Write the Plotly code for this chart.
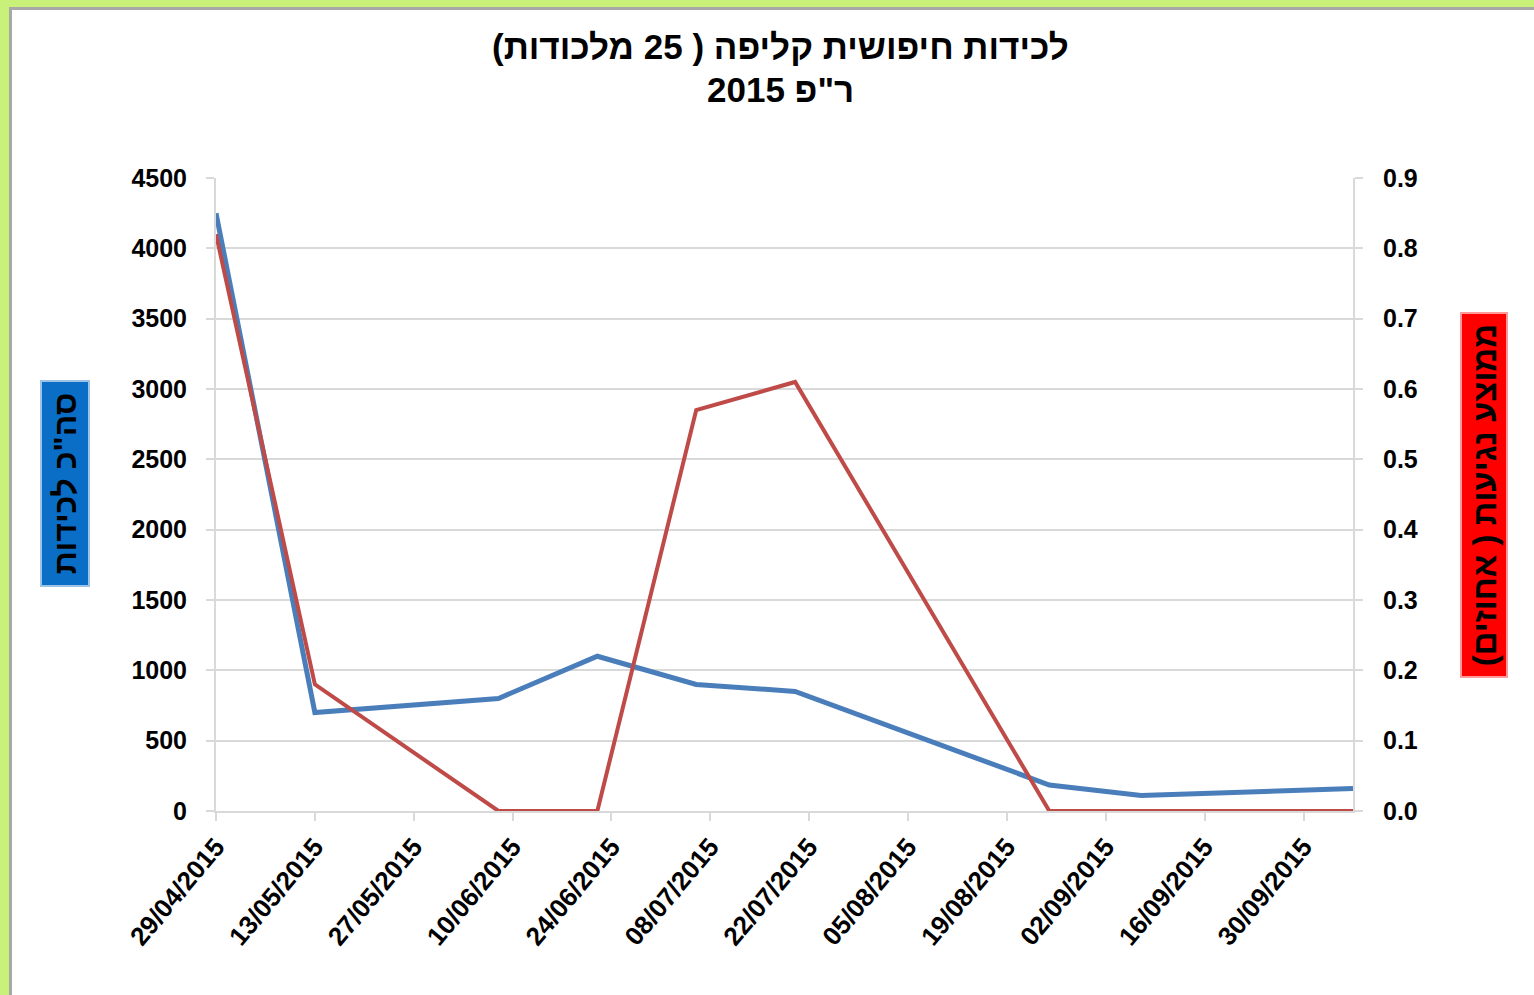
import plotly.graph_objects as go

# ---- data ----
dates = ["2015-04-29", "2015-05-13", "2015-06-08", "2015-06-22", "2015-07-06",
         "2015-07-20", "2015-08-25", "2015-09-07", "2015-10-07"]
total_catches = [4250, 700, 800, 1100, 900, 850, 185, 110, 160]
avg_damage = [0.82, 0.18, 0.0, 0.0, 0.57, 0.61, 0.0, 0.0, 0.0]

RLM = "\u200f"
title_line1 = "לכידות חיפושית קליפה ( 25 מלכודות)"
title_line2 = "ר\"פ 2015"
left_title = "סה\"כ לכידות"
right_title = "ממוצע נגיעות ( אחוזים)"

FONT = "Liberation Sans, Arial, sans-serif"
W, H = 1534, 995
L, R, T, B = 216, 181, 178, 184
PW, PH = W - L - R, H - T - B


def px(x):
    return (x - L) / PW


def py(y):
    return (H - B - y) / PH


fig = go.Figure()
fig.add_trace(go.Scatter(
    x=dates, y=total_catches, mode="lines", yaxis="y",
    line=dict(color="#4A7EBB", width=5), cliponaxis=False, showlegend=False,
))
fig.add_trace(go.Scatter(
    x=dates, y=avg_damage, mode="lines", yaxis="y2",
    line=dict(color="#BE4B48", width=4), cliponaxis=False, showlegend=False,
))

grid = "#D9D9D9"
tickfont = dict(family=FONT, size=25, color="black", weight="bold")

fig.update_layout(
    width=W, height=H, autosize=False,
    margin=dict(l=L, r=R, t=T, b=B, pad=0),
    paper_bgcolor="white", plot_bgcolor="rgba(0,0,0,0)",
    xaxis=dict(
        type="date", range=[dates[0], dates[-1]],
        tick0=dates[0], dtick=14 * 86400000, tickformat="%d/%m/%Y",
        tickangle=-50, tickfont=dict(family=FONT, size=26, color="black", weight="bold"),
        showgrid=False, showline=True, linecolor=grid, linewidth=2,
        ticks="outside", ticklen=8, tickcolor=grid, tickwidth=2,
        zeroline=False,
    ),
    yaxis=dict(
        range=[0, 4500], dtick=500, tick0=0,
        tickfont=tickfont, showgrid=True, gridcolor=grid, gridwidth=2,
        showline=True, linecolor=grid, linewidth=2,
        ticks="outside", ticklen=8, tickcolor=grid, tickwidth=2,
        ticklabelstandoff=14, zeroline=False,
    ),
    yaxis2=dict(
        range=[0, 0.9], dtick=0.1, tick0=0, tickformat=".1f",
        overlaying="y", side="right",
        tickfont=tickfont, showgrid=False,
        showline=True, linecolor=grid, linewidth=2,
        ticks="outside", ticklen=8, tickcolor=grid, tickwidth=2,
        ticklabelstandoff=15, zeroline=False,
    ),
    shapes=[
        dict(type="rect", xref="paper", yref="paper", layer="below",
             x0=px(0), x1=px(W), y0=py(0), y1=py(H),
             fillcolor="#C9F17A", line=dict(width=0)),
        dict(type="rect", xref="paper", yref="paper", layer="below",
             x0=px(9), x1=px(W), y0=py(7), y1=py(H),
             fillcolor="#A8A8A8", line=dict(width=0)),
        dict(type="rect", xref="paper", yref="paper", layer="below",
             x0=px(12), x1=px(W), y0=py(10), y1=py(H),
             fillcolor="white", line=dict(width=0)),
    ],
    annotations=[
        dict(xref="paper", yref="paper", x=px(780), y=py(47), showarrow=False,
             text=RLM + title_line1 + RLM, xanchor="center", yanchor="middle",
             font=dict(family=FONT, size=35, color="black", weight="bold")),
        dict(xref="paper", yref="paper", x=px(780), y=py(90), showarrow=False,
             text=RLM + title_line2 + RLM, xanchor="center", yanchor="middle",
             font=dict(family=FONT, size=35, color="black", weight="bold")),
        dict(xref="paper", yref="paper", x=px(65), y=py(483), showarrow=False,
             text=RLM + left_title + RLM, textangle=-90,
             xanchor="center", yanchor="middle",
             width=203, height=46, bgcolor="#0A6EC6",
             bordercolor="#9CC3E6", borderwidth=2, borderpad=0,
             font=dict(family=FONT, size=32, color="black", weight="bold")),
        dict(xref="paper", yref="paper", x=px(1484), y=py(495), showarrow=False,
             text=RLM + right_title + RLM, textangle=-90,
             xanchor="center", yanchor="middle",
             width=362, height=44, bgcolor="#FF0000",
             bordercolor="#FF9A9A", borderwidth=2, borderpad=0,
             font=dict(family=FONT, size=33, color="black", weight="bold")),
    ],
)

fig.write_html("out.html", config={"displayModeBar": False},
               post_script="document.body.style.margin='0';")
